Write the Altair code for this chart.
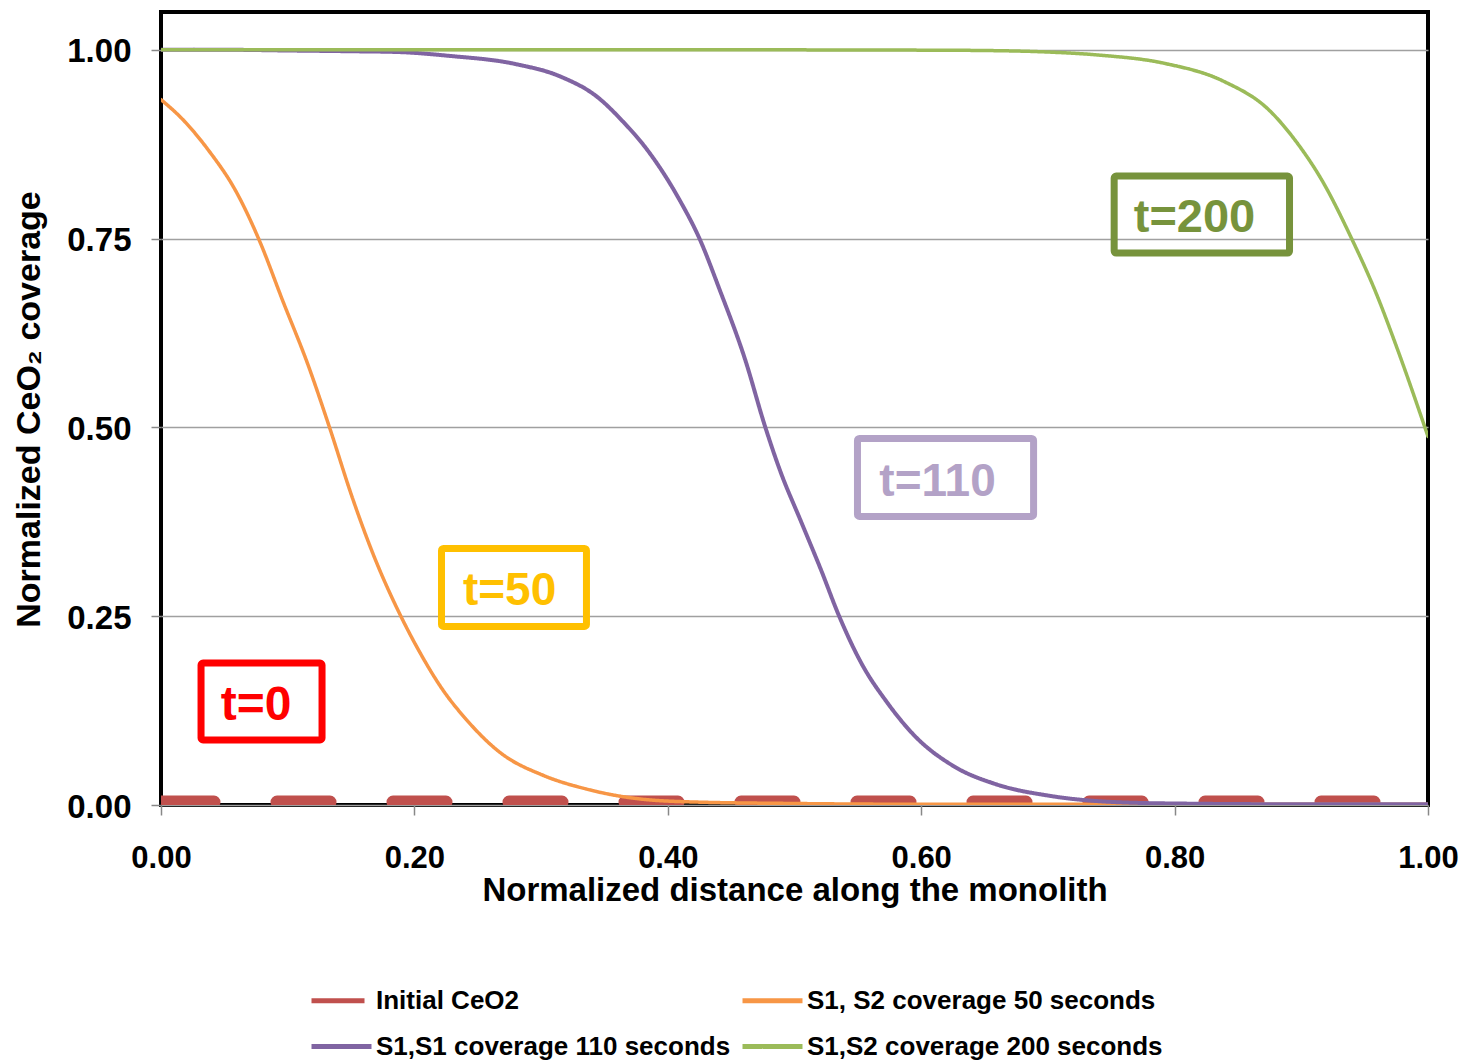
import altair as alt
import pandas as pd

# ---------------- data ----------------
series_names = [
    "Initial CeO2",
    "S1, S2 coverage 50 seconds",
    "S1,S1 coverage 110 seconds",
    "S1,S2 coverage 200 seconds",
]
series_colors = ["#C0504D", "#F79646", "#8064A2", "#9BBB59"]
series_dash = [[53, 63], [1, 0], [1, 0], [1, 0]]
series_width = [13, 3.5, 4, 3.5]

x_initial = [0.0, 1.0]
y_initial = [0.004, 0.004]

x_50 = [0.0, 0.017, 0.037, 0.060, 0.078, 0.096, 0.116, 0.133, 0.151, 0.167,
        0.189, 0.203, 0.223, 0.240, 0.268, 0.302, 0.336, 0.378, 0.42, 0.5,
        0.6, 0.7, 0.8, 0.9, 1.0]
y_50 = [0.934, 0.908, 0.868, 0.810, 0.746, 0.668, 0.583, 0.500, 0.407, 0.334,
        0.251, 0.206, 0.151, 0.115, 0.069, 0.039, 0.021, 0.008, 0.004, 0.002,
        0.001, 0.001, 0.001, 0.001, 0.001]

x_110 = [0.0, 0.05, 0.10, 0.15, 0.187, 0.227, 0.280, 0.316, 0.344, 0.364,
         0.384, 0.409, 0.425, 0.441, 0.461, 0.477, 0.489, 0.505, 0.521, 0.535,
         0.553, 0.573, 0.594, 0.626, 0.658, 0.702, 0.751, 0.80, 0.9, 1.0]
y_110 = [1.0, 1.0, 0.999, 0.998, 0.997, 0.992, 0.981, 0.964, 0.938, 0.906,
         0.867, 0.802, 0.750, 0.682, 0.590, 0.500, 0.441, 0.376, 0.311, 0.251,
         0.187, 0.136, 0.093, 0.051, 0.028, 0.012, 0.004, 0.002, 0.001, 0.001]

x_200 = [0.0, 0.2, 0.4, 0.6, 0.65, 0.70, 0.74, 0.792, 0.839, 0.874, 0.897,
         0.916, 0.940, 0.958, 0.976, 1.0]
y_200 = [1.0, 1.0, 1.0, 0.9995, 0.999, 0.997, 0.993, 0.982, 0.958, 0.921, 0.876,
         0.828, 0.749, 0.682, 0.603, 0.488]

x_ticks = [0.0, 0.2, 0.4, 0.6, 0.8, 1.0]
y_ticks = [0.0, 0.25, 0.5, 0.75, 1.0]

# annotation boxes (data coordinates)
ann_text = ["t=0", "t=50", "t=110", "t=200"]
ann_color = ["#FF0000", "#FFC000", "#B3A2C7", "#77933C"]
ann_x = [0.0750, 0.2751, 0.6129, 0.8157]
ann_y = [0.1126, 0.2649, 0.4093, 0.7589]
ann_size = [48, 46, 46, 47]
ann_x1 = [0.0316, 0.2214, 0.5497, 0.7523]
ann_x2 = [0.1271, 0.3358, 0.6887, 0.8907]
ann_y1 = [0.0861, 0.2364, 0.3821, 0.7309]
ann_y2 = [0.1880, 0.3397, 0.4854, 0.8328]

# ---------------- build tables ----------------
rows = []
for name, sw, xs, ys in zip(series_names, series_width,
                            [x_initial, x_50, x_110, x_200],
                            [y_initial, y_50, y_110, y_200]):
    for xv, yv in zip(xs, ys):
        rows.append({"series": name, "sw": sw, "x": xv, "y": yv})
df = pd.DataFrame(rows)

ann = pd.DataFrame({
    "text": ann_text, "color": ann_color, "x": ann_x, "y": ann_y,
    "size": ann_size, "x1": ann_x1, "x2": ann_x2, "y1": ann_y1, "y2": ann_y2,
})

FONT = "Liberation Sans"

legend = alt.Legend(
    title=None, orient="none", legendX=148, legendY=956, columns=2,
    direction="horizontal",
    symbolType="stroke", symbolSize=3600, symbolStrokeWidth=5,
    labelFontSize=26, labelFont=FONT,
    labelFontWeight="bold", labelColor="black", labelOffset=2,
    columnPadding=1, rowPadding=-22, padding=0, labelLimit=600,
)

x_enc = alt.X("x:Q", scale=alt.Scale(domain=[0, 1], nice=False, zero=False),
              axis=alt.Axis(values=x_ticks, format=".2f",
                            title="Normalized distance along the monolith",
                            grid=False, domain=False, tickSize=10,
                            tickColor="#888888", tickWidth=1.5,
                            labelPadding=28, labelFontSize=31, labelFont=FONT,
                            labelFontWeight="bold", labelColor="black",
                            labelFlush=False, titleFontSize=33, titleFont=FONT,
                            titleFontWeight="bold", titleColor="black",
                            titlePadding=1))
y_enc = alt.Y("y:Q", scale=alt.Scale(domain=[0, 1.05], nice=False),
              axis=alt.Axis(values=y_ticks, format=".2f",
                            title="Normalized CeO\u2082 coverage",
                            grid=True, gridColor="#A0A0A0", gridWidth=1.5,
                            domain=False, tickSize=10, tickColor="#888888",
                            tickWidth=1.5, labelPadding=20, labelFontSize=33,
                            labelFont=FONT, labelFontWeight="bold",
                            labelColor="black", labelFlush=False, labelOffset=2,
                            titleFontSize=34, titleFont=FONT,
                            titleFontWeight="bold", titleColor="black",
                            titleX=-115, titleY=397))

lines = alt.Chart(df).mark_line(clip=True, strokeCap="round",
                                interpolate="monotone").encode(
    x=x_enc,
    y=y_enc,
    color=alt.Color("series:N", scale=alt.Scale(domain=series_names, range=series_colors),
                    legend=legend),
    strokeDash=alt.StrokeDash("series:N", scale=alt.Scale(domain=series_names, range=series_dash),
                              legend=legend),
    strokeWidth=alt.StrokeWidth("sw:Q", scale=None, legend=None),
)

boxes = alt.Chart(ann).mark_rect(fillOpacity=0, strokeWidth=7, cornerRadius=2).encode(
    x="x1:Q", x2="x2:Q", y="y1:Q", y2="y2:Q",
    stroke=alt.Stroke("color:N", scale=None),
)

labels = alt.Chart(ann).mark_text(baseline="alphabetic", align="center",
                                  fontWeight="bold", font=FONT).encode(
    x="x:Q", y="y:Q", text="text:N",
    fill=alt.Fill("color:N", scale=None),
    size=alt.Size("size:Q", scale=None),
)

chart = alt.layer(lines, boxes, labels).properties(
    width=1267, height=793,
    background="white",
    autosize=alt.AutoSizeParams(type="none"),
    padding={"left": 153, "top": 4, "right": 31, "bottom": 257},
).configure_view(stroke="black", strokeWidth=4)

chart.save("out.html", embed_options={"renderer": "svg", "actions": False})
